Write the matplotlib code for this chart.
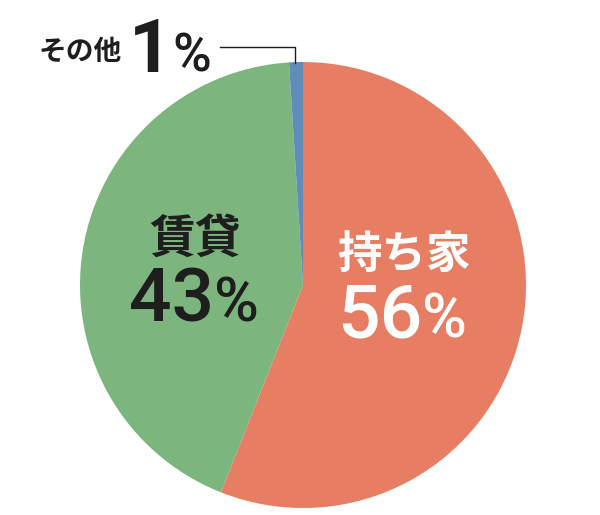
import matplotlib.pyplot as plt

labels = ["持ち家", "賃貸", "その他"]
values = [56, 43, 1]
colors = ["#E77E64", "#7DB57F", "#5F8CB8"]

H = 515
fig = plt.figure(figsize=(6, 5.15), dpi=100)
ax = fig.add_axes([0, 0, 1, 1])

ax.pie(values, colors=colors, startangle=90, counterclock=False,
       center=(303, H - 285), radius=223, frame=True,
       wedgeprops=dict(linewidth=0))
ax.set_xlim(0, 600)
ax.set_ylim(0, H)
ax.set_aspect("equal")
ax.axis("off")

jp = ["Noto Sans CJK JP", "DejaVu Sans"]
num = ["Roboto", "DejaVu Sans"]
dark = "#1e1e1e"
big, pct = 54, 44

# 持ち家
ax.text(404, H - 255, labels[0], family=jp, fontsize=32, fontweight="bold",
        color="white", ha="center", va="center")
ax.text(422, H - 338, f"{values[0]}", family=num, fontsize=big, fontweight="medium",
        color="white", ha="right", va="baseline")
ax.text(422, H - 338, "%", family=num, fontsize=pct, fontweight="medium",
        color="white", ha="left", va="baseline")

# 賃貸
ax.text(195, H - 240, labels[1], family=jp, fontsize=33, fontweight="bold",
        color=dark, ha="center", va="center")
ax.text(214, H - 322, f"{values[1]}", family=num, fontsize=big, fontweight="medium",
        color=dark, ha="right", va="baseline")
ax.text(214, H - 322, "%", family=num, fontsize=pct, fontweight="medium",
        color=dark, ha="left", va="baseline")

# その他
ax.text(80, H - 52, labels[2], family=jp, fontsize=20, fontweight="bold",
        color=dark, ha="center", va="center")
ax.text(172, H - 72, f"{values[2]}", family=num, fontsize=big, fontweight="bold",
        color=dark, ha="right", va="baseline")
ax.text(172, H - 72, "%", family=num, fontsize=pct - 6, fontweight="medium",
        color=dark, ha="left", va="baseline")
ax.plot([220, 295, 295], [H - 47, H - 47, H - 63], color=dark, lw=1)

fig.savefig("out.png", dpi=100)
